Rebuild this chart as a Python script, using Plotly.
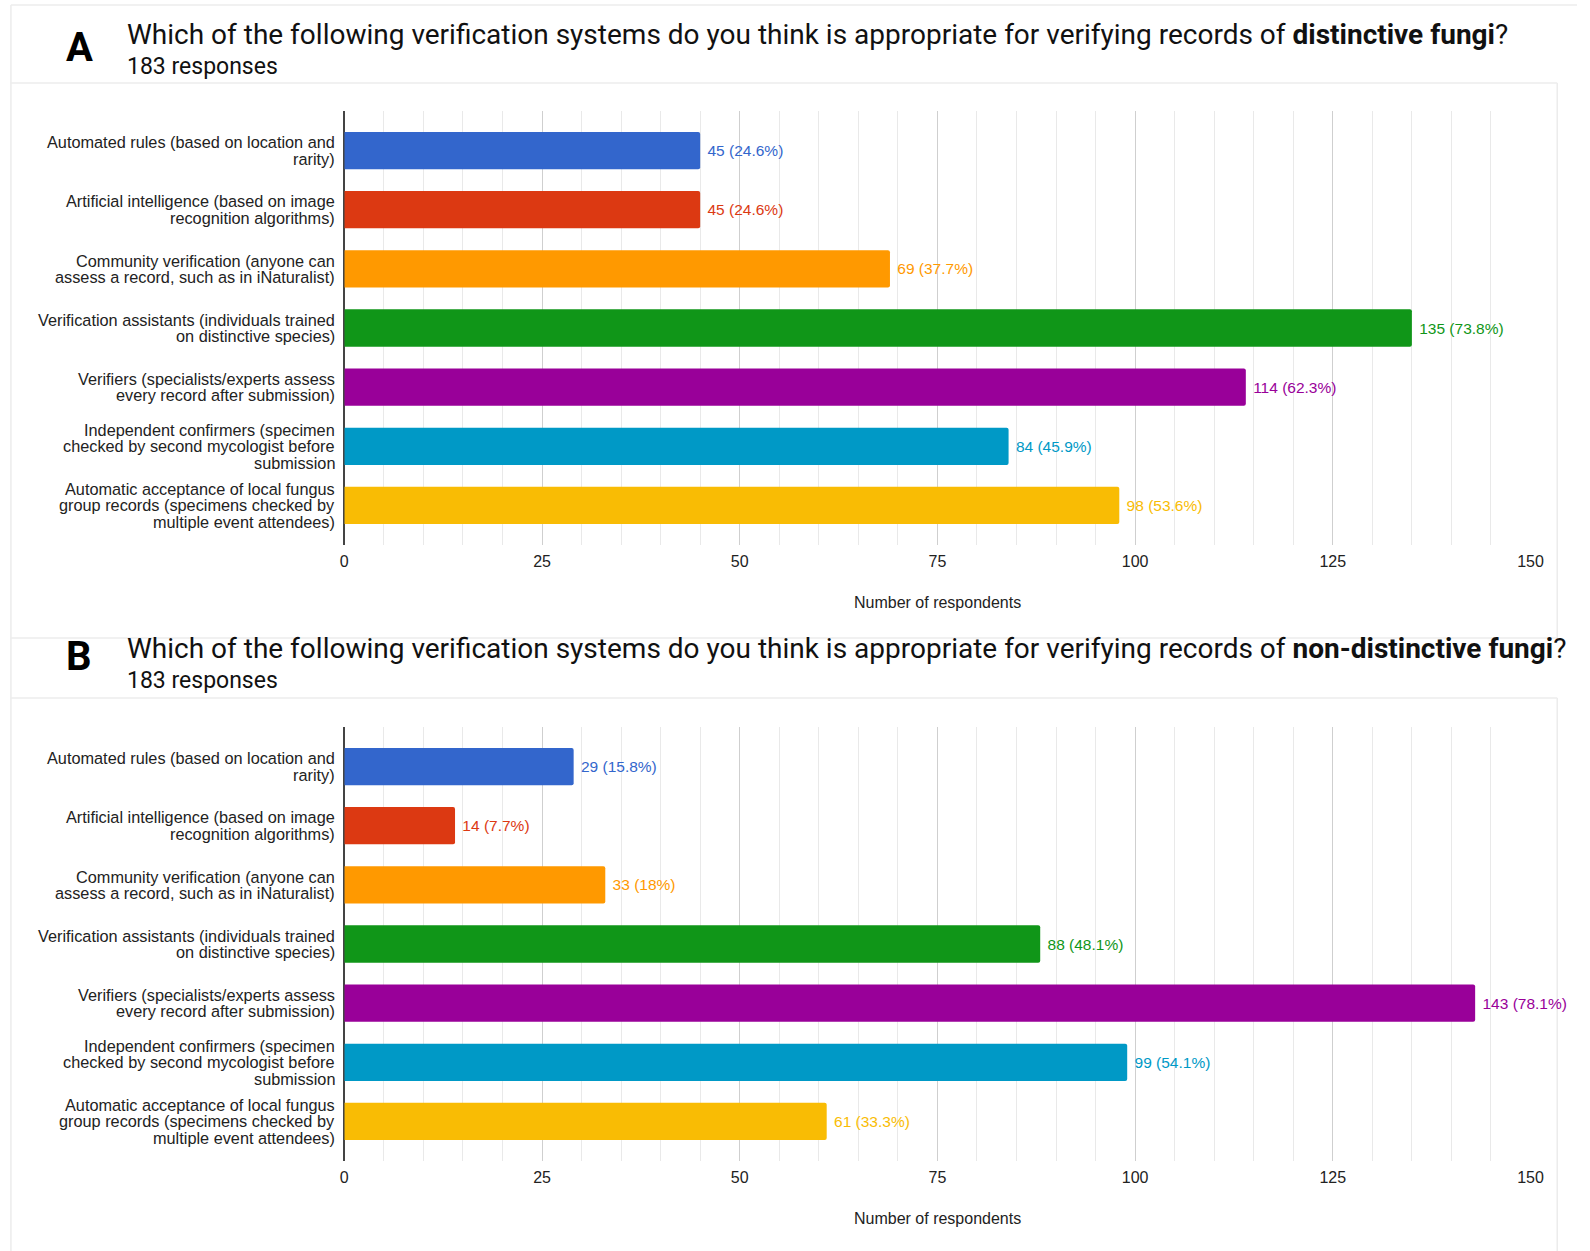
import plotly.graph_objects as go

# ---------------- data ----------------
categories = [
    "Automated rules (based on location and<br>rarity)",
    "Artificial intelligence (based on image<br>recognition algorithms)",
    "Community verification (anyone can<br>assess a record, such as in iNaturalist)",
    "Verification assistants (individuals trained<br>on distinctive species)",
    "Verifiers (specialists/experts assess<br>every record after submission)",
    "Independent confirmers (specimen<br>checked by second mycologist before<br>submission",
    "Automatic acceptance of local fungus<br>group records (specimens checked by<br>multiple event attendees)",
]
values_a = [45, 45, 69, 135, 114, 84, 98]
pct_a = ["24.6", "24.6", "37.7", "73.8", "62.3", "45.9", "53.6"]
values_b = [29, 14, 33, 88, 143, 99, 61]
pct_b = ["15.8", "7.7", "18", "48.1", "78.1", "54.1", "33.3"]
colors = ["#3366cc", "#dc3912", "#ff9900", "#109618", "#990099", "#0099c6", "#f9bc04"]
x_ticks = [0, 25, 50, 75, 100, 125, 150]
title_a = "Which of the following verification systems do you think is appropriate for verifying records of <b>distinctive fungi</b>?"
title_b = "Which of the following verification systems do you think is appropriate for verifying records of <b>non-distinctive fungi</b>?"
responses = "183 responses"
x_title = "Number of respondents"

W, H = 1590, 1251
LABEL_FONT = "Liberation Sans, Arial, sans-serif"
TITLE_FONT = "Roboto, sans-serif"
LINE_H = 16.5


def py(px):
    return 1 - px / H


fig = go.Figure()

for i, (vals, pcts) in enumerate([(values_a, pct_a), (values_b, pct_b)]):
    suffix = "" if i == 0 else "2"
    fig.add_trace(go.Bar(
        x=vals, y=categories, orientation="h",
        marker=dict(color=colors, cornerradius=2, line=dict(width=0)),
        text=["\u00a0" + f"{v} ({p}%)" for v, p in zip(vals, pcts)],
        textposition="outside",
        textfont=dict(color=colors, size=15.5, family=LABEL_FONT),
        cliponaxis=False,
        hoverinfo="skip",
        xaxis="x" + suffix, yaxis="y" + suffix,
        showlegend=False,
    ))

x_dom = [344 / W, 1543 / W]
axis_common = dict(
    range=[0, 150], tickvals=x_ticks, showgrid=True, gridcolor="#cfcfcf", gridwidth=1,
    minor=dict(dtick=5, tick0=0, showgrid=True, gridcolor="#e9e9e9", gridwidth=1),
    zeroline=True, zerolinecolor="#444444", zerolinewidth=1.5,
    ticks="outside", ticklen=2, tickcolor="rgba(0,0,0,0)",
    tickfont=dict(size=16, color="#222222", family=LABEL_FONT),
    showline=False, fixedrange=True,
)
yaxis_common = dict(
    range=[6.67, -0.67], showgrid=False, zeroline=False, showline=False,
    showticklabels=False, ticks="", fixedrange=True,
)

fig.update_layout(
    width=W, height=H, autosize=False,
    margin=dict(l=0, r=0, t=0, b=0),
    paper_bgcolor="white", plot_bgcolor="white",
    bargap=0.37,
    xaxis=dict(domain=x_dom, anchor="y", **axis_common),
    yaxis=dict(domain=[py(545), py(111)], anchor="x", **yaxis_common),
    xaxis2=dict(domain=x_dom, anchor="y2", **axis_common),
    yaxis2=dict(domain=[py(1161), py(727)], anchor="x2", **yaxis_common),
)

# frame lines (card borders)
line_col = "#ececec"
frame = [
    (7, 5, W, 5), (7, 5, 7, H),
    (7, 83, 1570, 83), (1570, 83, 1570, 638), (7, 638, 1570, 638),
    (7, 698, 1570, 698), (1570, 698, 1570, H),
]
for x0, y0, x1, y1 in frame:
    fig.add_shape(type="line", xref="paper", yref="paper",
                  x0=x0 / W, x1=x1 / W, y0=py(y0), y1=py(y1),
                  line=dict(color=line_col, width=1.5), layer="below")

annotations = []
for letter, title, y_letter, y_title, y_resp, ax in [
    ("A", title_a, 47, 34, 66, ""),
    ("B", title_b, 657, 648, 681, "2"),
]:
    annotations.append(dict(text=f"<b>{letter}</b>", x=61 / W, y=py(y_letter), xref="paper", yref="paper",
                            xanchor="left", yanchor="middle", showarrow=False,
                            font=dict(size=40, color="#000000", family=TITLE_FONT)))
    annotations.append(dict(text=title, x=122 / W, y=py(y_title), xref="paper", yref="paper",
                            xanchor="left", yanchor="middle", showarrow=False,
                            font=dict(size=28, color="#111111", family=TITLE_FONT)))
    annotations.append(dict(text=responses, x=122 / W, y=py(y_resp), xref="paper", yref="paper",
                            xanchor="left", yanchor="middle", showarrow=False,
                            font=dict(size=23, color="#111111", family=TITLE_FONT)))
    annotations.append(dict(text=x_title, x=0.5, y=0, xref=f"x{ax} domain", yref=f"y{ax} domain",
                            xanchor="center", yanchor="middle", yshift=-57, showarrow=False,
                            font=dict(size=16, color="#222222", family=LABEL_FONT)))
    # category labels, one annotation per line for tight line spacing
    for cat in categories:
        lines = cat.split("<br>")
        n = len(lines)
        for k, line in enumerate(lines):
            annotations.append(dict(
                text=line, x=0, y=cat, xref=f"x{ax}", yref=f"y{ax}",
                xanchor="right", yanchor="middle", xshift=-7,
                yshift=((n - 1) / 2 - k) * LINE_H, showarrow=False,
                font=dict(size=16.3, color="#222222", family=LABEL_FONT)))
fig.update_layout(annotations=annotations)

fig.write_html(
    "out.html",
    config={"displayModeBar": False, "responsive": False},
    post_script="document.body.style.margin='0';document.body.style.overflow='hidden';",
)
